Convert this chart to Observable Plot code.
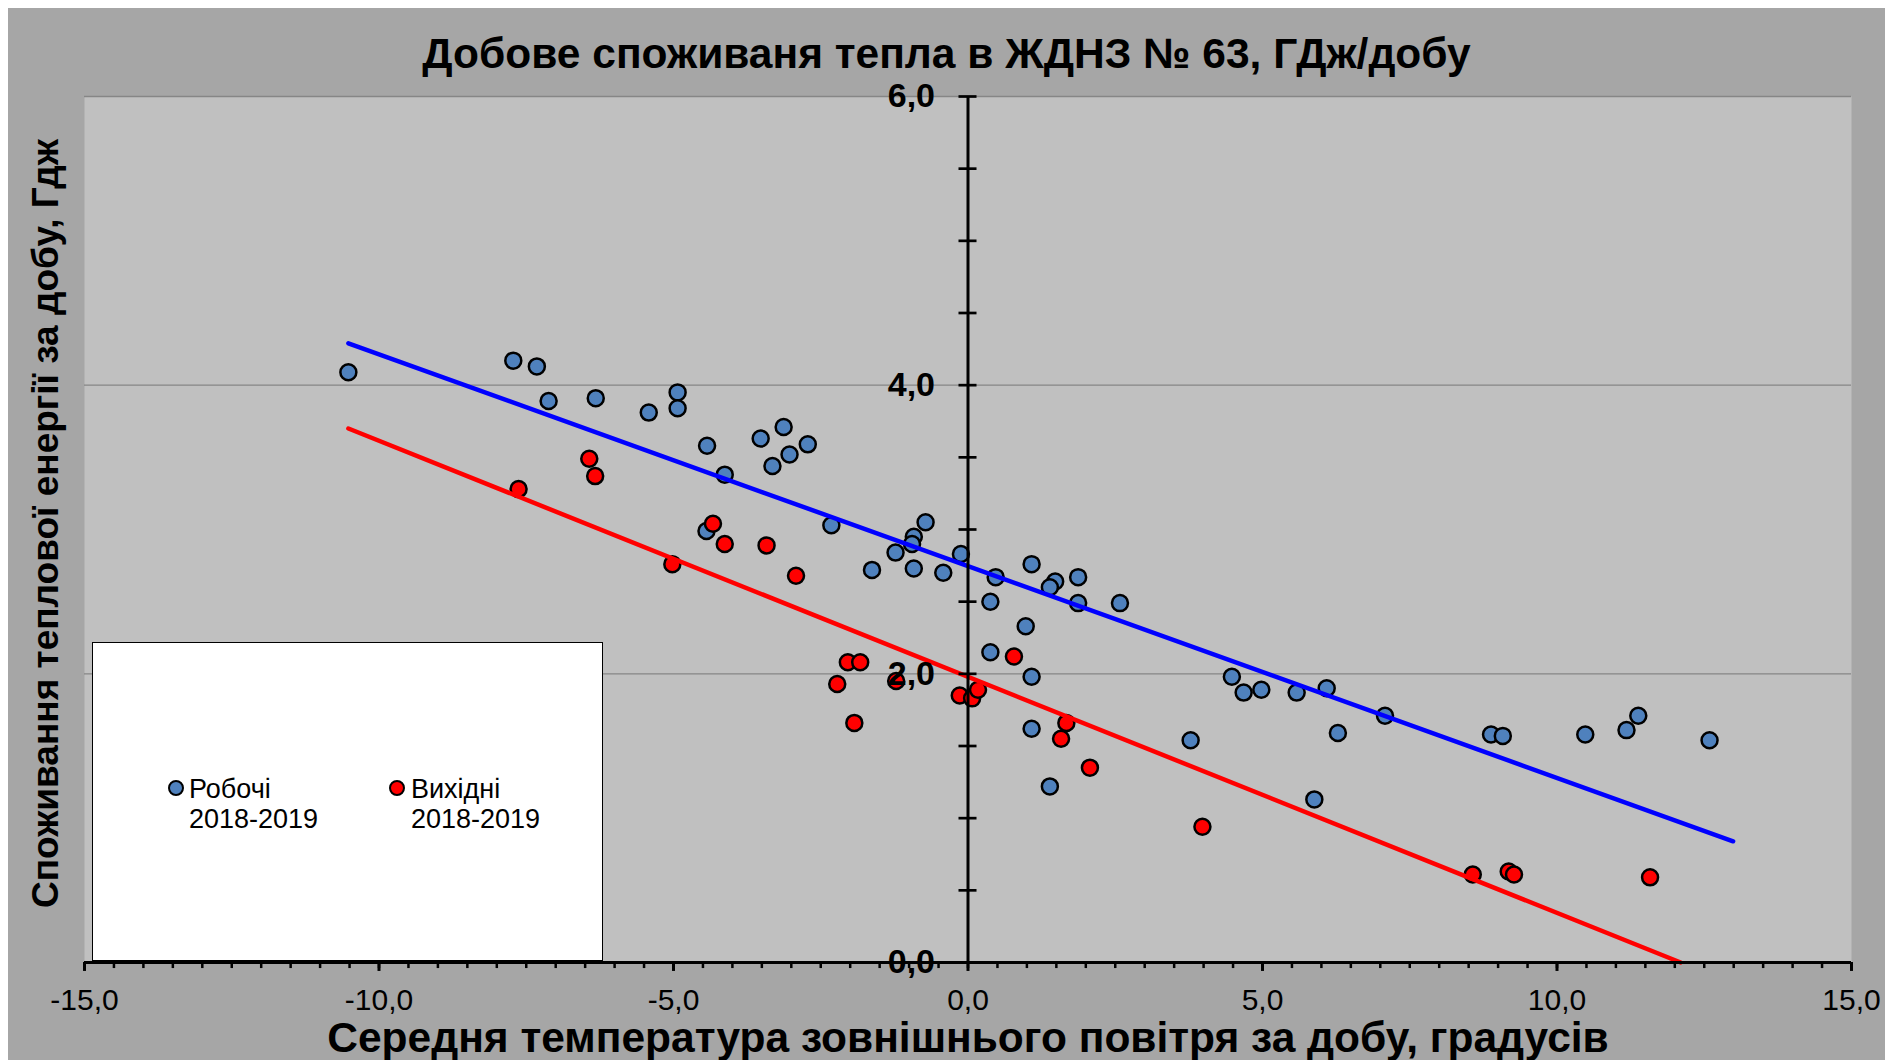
<!DOCTYPE html>
<html>
<head>
<meta charset="utf-8">
<script src="https://cdn.jsdelivr.net/npm/d3@7"></script>
<script src="https://cdn.jsdelivr.net/npm/@observablehq/plot@0.6"></script>
<style>
  html, body { margin: 0; padding: 0; background: #ffffff; }
  body { width: 1885px; height: 1060px; position: relative; overflow: hidden; font-family: "Liberation Sans", Arial, sans-serif; }
  #panel { position: absolute; left: 8px; top: 8px; width: 1877px; height: 1052px; background: #a6a6a6; }
  #title { box-sizing: border-box; height: 74px; padding-top: 22px; text-align: center; font-size: 42.5px; font-weight: bold; color: #000; line-height: normal; white-space: nowrap; }
  #chart svg { display: block; }
  #legend { position: absolute; left: 84px; top: 634px; width: 511px; height: 319px; box-sizing: border-box; background: #fff; border: 1.5px solid #000; }
  .lg-mark { position: absolute; width: 12px; height: 12px; border: 2.5px solid #000; border-radius: 50%; }
  .lg-text { position: absolute; font-size: 27px; line-height: 30px; color: #000; white-space: nowrap; }
</style>
</head>
<body>
<div id="panel">
  <div id="title"></div>
  <div id="chart"></div>
  <div id="legend"></div>
</div>
<script>
// ---- data ----
const titleText = "Добове споживаня тепла в ЖДНЗ № 63, ГДж/добу";
const xTitle = "Середня температура зовнішнього повітря за добу, градусів";
const yTitle = "Споживання теплової енергії за добу, Гдж";

const seriesNames = ["Робочі", "Вихідні"];
const seriesPeriod = "2018-2019";
const seriesColors = ["#4f81bd", "#ff0000"];
const trendColors = ["#0000ff", "#ff0000"];

// Working days (Робочі)
const workX = [-10.52, -7.72, -7.32, -7.12, -6.32, -5.42, -4.93, -4.93, -4.43, -4.13,
  -4.44, -3.52, -3.13, -3.32, -3.03, -2.72, -2.32, -1.63, -1.23, -0.92,
  -0.95, -0.72, -0.92, -0.42, -0.12, 0.47, 0.38, 1.08, 1.48, 1.39,
  1.87, 1.87, 2.58, 0.98, 0.38, 1.08, 1.08, 1.39, 3.78, 4.48,
  4.68, 4.98, 5.58, 6.09, 6.28, 5.88, 7.08, 8.88, 9.08, 10.48,
  11.18, 11.38, 12.59];
const workY = [4.09, 4.17, 4.13, 3.89, 3.91, 3.81, 3.95, 3.84, 3.58, 3.38,
  2.99, 3.63, 3.71, 3.44, 3.52, 3.59, 3.03, 2.72, 2.84, 2.95,
  2.90, 3.05, 2.73, 2.70, 2.83, 2.67, 2.50, 2.76, 2.64, 2.60,
  2.67, 2.49, 2.49, 2.33, 2.15, 1.98, 1.62, 1.22, 1.54, 1.98,
  1.87, 1.89, 1.87, 1.90, 1.59, 1.13, 1.71, 1.58, 1.57, 1.58,
  1.61, 1.71, 1.54];

// Weekends (Вихідні)
const offX = [-7.63, -6.43, -6.33, -5.02, -4.33, -4.13, -3.42, -2.92, -2.22, -2.04,
  -1.83, -1.93, -1.22, -0.14, 0.07, 0.17, 0.78, 1.58, 1.67, 2.07,
  3.98, 8.57, 9.18, 9.27, 11.58];
const offY = [3.28, 3.49, 3.37, 2.76, 3.04, 2.90, 2.89, 2.68, 1.93, 2.08,
  2.08, 1.66, 1.95, 1.85, 1.83, 1.89, 2.12, 1.55, 1.66, 1.35,
  0.94, 0.61, 0.63, 0.61, 0.59];

// Linear trend lines (end points)
const workTrendX = [-10.52, 12.99];
const workTrendY = [4.29, 0.84];
const offTrendX = [-10.52, 12.10];
const offTrendY = [3.70, 0.0];

// Axes
const xDomain = [-15, 15];
const yDomain = [0, 6];
const xMajorTicks = [-15, -10, -5, 0, 5, 10, 15];
const xTickLabels = ["-15,0", "-10,0", "-5,0", "0,0", "5,0", "10,0", "15,0"];
const xMinorTicks = d3.range(-15, 15.001, 0.5);
const yMinorTicks = d3.range(0, 6.001, 0.5);
const yLabelTicks = [0, 2, 4, 6];
const yTickLabels = ["0,0", "2,0", "4,0", "6,0"];
const gridY = [2, 4, 6];

// ---- build ----
const work = workX.map((x, i) => ({x, y: workY[i]}));
const off = offX.map((x, i) => ({x, y: offY[i]}));
const workTrend = workTrendX.map((x, i) => ({x, y: workTrendY[i]}));
const offTrend = offTrendX.map((x, i) => ({x, y: offTrendY[i]}));

document.getElementById("title").textContent = titleText;

const font = "'Liberation Sans', Arial, sans-serif";
const chart = Plot.plot({
  width: 1877,
  height: 978,
  marginTop: 14,
  marginBottom: 98,
  marginLeft: 76,
  marginRight: 34,
  style: {background: "transparent", overflow: "visible", fontFamily: font, color: "#000"},
  x: {domain: xDomain, axis: null},
  y: {domain: yDomain, axis: null},
  marks: [
    Plot.frame({fill: "#c0c0c0", stroke: "none"}),
    Plot.ruleY(gridY, {stroke: "#868686", strokeWidth: 1.3}),
    Plot.dot(work, {x: "x", y: "y", r: 8, fill: seriesColors[0], stroke: "#000", strokeWidth: 2.5}),
    Plot.dot(off, {x: "x", y: "y", r: 8, fill: seriesColors[1], stroke: "#000", strokeWidth: 2.5}),
    Plot.line(workTrend, {x: "x", y: "y", stroke: trendColors[0], strokeWidth: 4.5, strokeLinecap: "round"}),
    Plot.line(offTrend, {x: "x", y: "y", stroke: trendColors[1], strokeWidth: 4.5, strokeLinecap: "round"}),
    // axis lines
    Plot.ruleX([0], {y1: yDomain[0], y2: yDomain[1], stroke: "#000", strokeWidth: 3}),
    Plot.ruleY([0], {stroke: "#000", strokeWidth: 3}),
    // y ticks (crossing the axis)
    Plot.ruleY(yMinorTicks, {y: d => d, x1: -0.153, x2: 0.153, stroke: "#000", strokeWidth: 2.7}),
    // x ticks
    Plot.ruleX(xMinorTicks, {x: d => d, y1: 0, y2: -0.042, stroke: "#000", strokeWidth: 2.5}),
    Plot.ruleX(xMajorTicks, {x: d => d, y1: 0, y2: -0.062, stroke: "#000", strokeWidth: 3}),
    // tick labels
    Plot.text(xMajorTicks, {x: d => d, y: 0, text: (d, i) => xTickLabels[i], dy: 38, lineAnchor: "middle", fontSize: 30, fill: "#000", fontFamily: font}),
    Plot.text(yLabelTicks, {x: 0, y: d => d, text: (d, i) => yTickLabels[i], textAnchor: "end", lineAnchor: "middle", dx: -33, fontSize: 34, fontWeight: "bold", fill: "#000", fontFamily: font}),
    // axis titles
    Plot.text([xTitle], {frameAnchor: "bottom", text: d => d, textAnchor: "middle", lineAnchor: "middle", dy: 76, fontSize: 42.5, fontWeight: "bold", fill: "#000", fontFamily: font}),
    Plot.text([yTitle], {frameAnchor: "left", text: d => d, textAnchor: "middle", lineAnchor: "middle", dx: -38, dy: -6, rotate: -90, fontSize: 37, fontWeight: "bold", fill: "#000", fontFamily: font})
  ]
});
document.getElementById("chart").appendChild(chart);

// legend
const legend = document.getElementById("legend");
const markLeft = [74.5, 296];
const textLeft = [96, 318];
seriesNames.forEach((name, i) => {
  const m = document.createElement("div");
  m.className = "lg-mark";
  m.style.left = markLeft[i] + "px";
  m.style.top = "137px";
  m.style.background = seriesColors[i];
  legend.appendChild(m);
  const t = document.createElement("div");
  t.className = "lg-text";
  t.style.left = textLeft[i] + "px";
  t.style.top = "131px";
  t.innerHTML = name + "<br>" + seriesPeriod;
  legend.appendChild(t);
});
</script>
</body>
</html>
